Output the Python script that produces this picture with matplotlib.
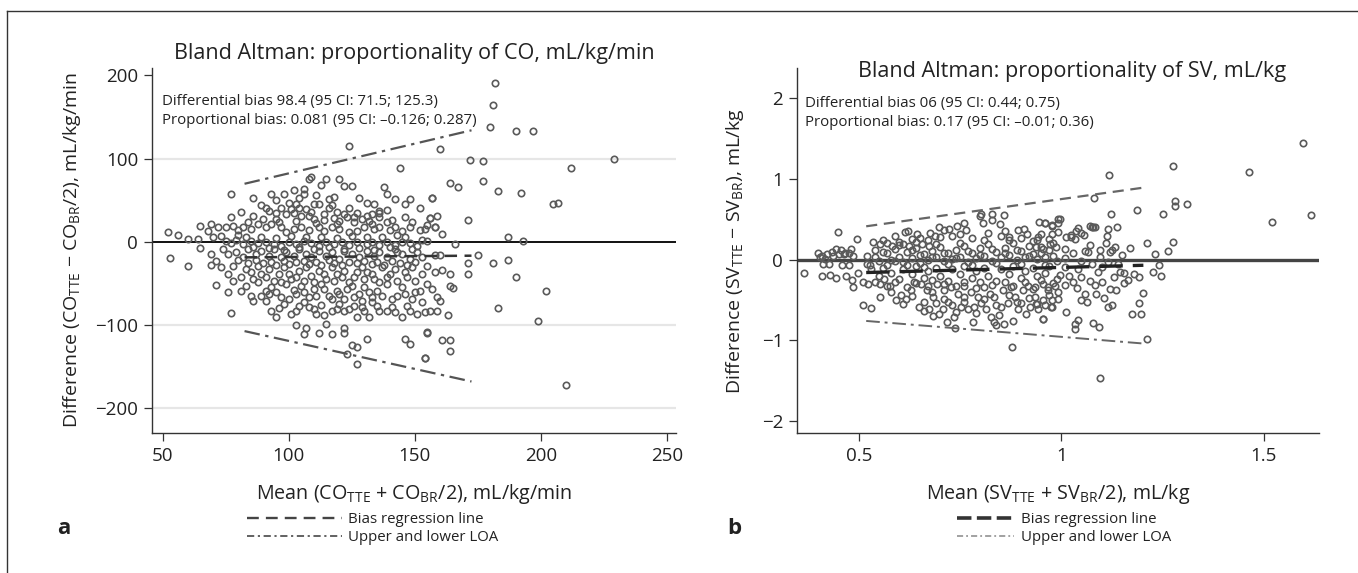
import numpy as np
import matplotlib
matplotlib.use('Agg')
import matplotlib.pyplot as plt
from matplotlib.lines import Line2D

plt.rcParams['font.family'] = ['Open Sans', 'DejaVu Sans']
plt.rcParams['mathtext.fontset'] = 'custom'
plt.rcParams['mathtext.rm'] = 'Open Sans'
plt.rcParams['axes.unicode_minus'] = True

# ---- panel a: CO (mean, difference) ----
co_points = [
    (124, 115), (144, 88), (109, 78), (108, 75), (120, 75), (113, 68), (115, 75), (122, 67), (125, 67),
    (77, 57), (86, 52), (93, 57), (98, 57), (102, 62), (106, 63), (106, 57),
    (138, 66), (139, 57), (142, 51), (148, 51), (157, 52), (128, 52), (134, 45), (136, 37), (139, 38),
    (89, 44), (91, 41), (97, 41), (100, 47), (103, 45), (107, 39), (110, 45), (112, 45), (116, 51),
    (117, 44), (116, 41), (124, 41), (127, 34), (133, 33), (136, 35), (152, 40),
    (77, 29), (81, 36), (86, 31), (92, 37), (95, 27), (99, 33), (102, 34), (105, 31), (108, 31),
    (110, 27), (114, 26), (118, 28), (120, 25), (123, 29), (126, 30), (129, 27), (132, 25), (136, 29),
    (139, 23), (142, 17), (146, 29), (149, 23), (156, 28), (159, 31),
    (65, 19), (69, 21), (68, 13), (72, 17), (75, 17), (78, 19), (80, 14), (82, 17), (85, 15), (88, 21),
    (91, 18), (93, 21), (97, 17), (99, 11), (102, 15), (105, 18), (108, 14), (112, 17), (114, 13),
    (117, 18), (120, 15), (124, 12), (127, 13), (130, 17), (134, 15), (136, 17), (140, 14), (143, 8),
    (145, 13), (148, 17), (152, 14), (155, 20), (158, 17),
    (52, 11), (56, 8), (60, 3), (64, 3), (70, 5), (73, 7),
    (75, 1), (77, -2), (79, 2), (82, -3), (85, 1), (88, -2), (91, 0), (94, -3), (97, -5), (100, -1),
    (103, -3), (106, 1), (109, -2), (112, -5), (115, 0), (118, -3), (121, -1), (124, -4), (127, 0),
    (131, -3), (133, -1), (136, -4), (139, -1), (142, -4), (145, 0), (148, -2), (151, -5), (155, 1),
    (53, -20), (60, -29), (65, -8), (69, -15), (71, -23), (69, -28),
    (74, -9), (76, -15), (79, -13), (82, -19), (84, -9), (87, -15), (89, -11), (92, -17), (94, -9),
    (97, -19), (99, -13), (102, -17), (104, -9), (107, -15), (109, -19), (112, -11), (115, -17),
    (117, -13), (120, -21), (122, -9), (125, -15), (128, -19), (131, -11), (134, -17), (136, -13),
    (139, -19), (142, -9), (145, -15), (148, -21), (151, -13), (153, -19),
    (73, -31), (76, -39), (78, -29), (81, -43), (83, -33), (85, -37), (88, -29), (91, -43), (92, -33),
    (96, -39), (98, -31), (101, -45), (104, -35), (107, -31), (109, -41), (112, -35), (115, -45),
    (117, -31), (119, -39), (122, -35), (126, -43), (129, -31), (131, -37), (134, -45), (137, -31),
    (140, -39), (142, -33), (147, -43), (149, -31), (153, -39), (155, -29), (158, -37),
    (71, -52), (76, -61), (81, -59), (78, -47), (83, -53), (85, -65), (88, -49), (91, -59), (93, -55),
    (97, -67), (99, -51), (103, -63), (105, -53), (108, -67), (110, -57), (113, -51), (116, -65),
    (119, -59), (122, -69), (125, -53), (128, -63), (130, -55), (133, -67), (135, -59), (139, -51),
    (143, -65), (145, -55), (149, -69), (152, -59), (155, -51), (159, -67),
    (77, -86), (86, -72), (91, -71), (93, -83), (95, -91), (98, -75), (101, -87), (103, -83), (106, -73),
    (108, -79), (111, -87), (114, -89), (117, -83), (120, -75), (122, -83), (124, -81), (127, -91),
    (130, -83), (132, -91), (133, -73), (136, -83), (139, -83), (142, -85), (145, -91), (148, -83),
    (151, -87), (154, -85), (156, -83), (159, -83),
    (103, -101), (107, -104), (106, -111), (112, -110), (115, -99), (117, -111), (122, -110),
    (122, -104), (123, -135), (127, -127), (125, -125), (131, -117), (146, -117), (148, -123),
    (155, -109), (154, -140), (127, -147),
    (182, 191), (181, 165), (180, 138), (190, 133), (197, 133), (160, 112), (172, 98), (177, 97),
    (229, 100), (212, 88), (164, 71), (167, 66), (177, 73), (183, 61), (192, 59), (157, 52),
    (205, 45), (207, 46), (171, 26), (187, 5), (193, 1), (156, 28), (158, 18), (154, 15), (161, 9),
    (153, 2), (166, -3), (158, -16), (160, -16), (175, -16), (171, -26), (181, -26), (187, -22),
    (171, -39), (164, -39), (161, -34), (190, -43), (164, -53), (165, -56), (202, -60), (160, -72),
    (183, -80), (163, -89), (199, -96), (155, -110), (161, -118), (164, -119), (164, -132),
    (154, -140), (210, -173),
    # densest part of the cloud
    (80, 8), (83, 5), (86, -6), (89, 6), (92, -8), (95, 4), (98, -10), (101, 7), (104, -6), (107, 5),
    (110, -9), (113, 6), (116, -7), (119, 4), (122, -11), (125, 7), (128, -8), (131, 5), (134, -10),
    (137, 6), (140, -7), (143, -12), (146, 6), (149, -9), (84, 24), (90, 27), (96, 23), (103, 25),
    (111, 22), (119, 21), (126, 23), (133, 21), (141, 26),
    (80, -22), (84, -26), (87, -22), (90, -26), (93, -24), (95, -28), (98, -23), (100, -27), (103, -25),
    (106, -23), (108, -27), (111, -24), (113, -28), (116, -22), (118, -26), (121, -28), (124, -24),
    (127, -26), (130, -23), (133, -27), (135, -24), (138, -28), (141, -23), (144, -26), (147, -28),
    (150, -24),
    (86, -45), (89, -39), (94, -47), (97, -49), (100, -39), (103, -43), (106, -47), (110, -49),
    (114, -39), (118, -47), (121, -43), (124, -49), (127, -37), (130, -45), (133, -39), (136, -49),
    (139, -43), (143, -47), (146, -37), (150, -47),
    (89, -65), (92, -63), (95, -61), (100, -69), (102, -58), (106, -61), (111, -65), (114, -57),
    (117, -69), (120, -63), (123, -57), (126, -67), (129, -71), (132, -61), (137, -65), (141, -69),
    (146, -63), (150, -61), (153, -73), (157, -57),
    (96, -80), (104, -77), (110, -81), (113, -76), (119, -81), (126, -77), (129, -79), (135, -77),
    (141, -79), (147, -77),
    (95, 35), (101, 39), (104, 41), (109, 36), (114, 33), (119, 36), (122, 33), (131, 31), (95, 50),
    (104, 52), (111, 56), (118, 54), (131, 46), (146, 45),
]

# bias regression line and limits of agreement (end points)
co_line_x = [82.5, 172.5]
co_bias_y = [-19, -17]
co_upper_y = [69.6, 134]
co_lower_y = [-107.8, -168.5]

# ---- panel b: SV (mean, difference) ----
sv_points = [
    (0.365, -0.16), (0.408, -0.20), (0.429, -0.19), (0.443, -0.22), (0.403, 0.03), (0.411, -0.05),
    (0.425, -0.05), (0.417, 0.01), (0.437, 0.05), (0.45, 0.07), (0.462, 0.07), (0.475, 0.09),
    (0.458, -0.07), (0.475, -0.07), (0.469, -0.20), (0.483, -0.25), (0.486, -0.34), (0.497, -0.16),
    (0.51, -0.27), (0.522, -0.30), (0.527, -0.07),
    (0.51, -0.565), (0.53, -0.60), (0.553, -0.46), (0.552, -0.30), (0.562, -0.235), (0.578, -0.32),
    (0.591, -0.50), (0.603, -0.44), (0.616, -0.48), (0.628, -0.38), (0.636, -0.28),
    (0.649, -0.59), (0.661, -0.63), (0.674, -0.61), (0.684, -0.70), (0.69, -0.54), (0.698, -0.67),
    (0.707, -0.61), (0.719, -0.52), (0.717, -0.77), (0.737, -0.84), (0.736, -0.71), (0.74, -0.65),
    (0.752, -0.59), (0.759, -0.46), (0.769, -0.61), (0.785, -0.59), (0.783, -0.77),
    (0.802, -0.54), (0.814, -0.61), (0.827, -0.71), (0.835, -0.77), (0.839, -0.81), (0.858, -0.79),
    (0.847, -0.69), (0.852, -0.59), (0.868, -0.54), (0.882, -0.76), (0.879, -1.08),
    (0.893, -0.61), (0.901, -0.54), (0.914, -0.67), (0.922, -0.59), (0.934, -0.46), (0.955, -0.74),
    (0.943, -0.61), (0.959, -0.565), (0.974, -0.59), (0.977, -0.50), (0.991, -0.48), (0.997, -0.19),
    (0.653, -0.30), (0.669, -0.38), (0.682, -0.46), (0.694, -0.30), (0.711, -0.38), (0.727, -0.34),
    (0.744, -0.42), (0.76, -0.32), (0.777, -0.40), (0.794, -0.46), (0.81, -0.34), (0.823, -0.42),
    (0.835, -0.46), (0.856, -0.38), (0.876, -0.34), (0.885, -0.46), (0.905, -0.38), (0.918, -0.32),
    (0.934, -0.34), (0.955, -0.30), (0.968, -0.38), (0.984, -0.32),
    (1.598, 1.446), (1.275, 1.157), (1.118, 1.054), (1.464, 1.091), (1.080, 0.766), (1.188, 0.617),
    (1.28, 0.733), (1.28, 0.671), (1.311, 0.692), (1.251, 0.564), (1.122, 0.572), (1.52, 0.469),
    (1.618, 0.556), (0.961, 0.453), (0.978, 0.416), (0.997, 0.506), (0.992, 0.35),
    (1.075, 0.403), (1.083, 0.411), (1.115, 0.383), (1.137, 0.403), (1.112, 0.30),
    (1.048, 0.329), (1.025, 0.28), (1.035, 0.259), (0.943, 0.28), (0.951, 0.321),
    (1.17, 0.148), (1.212, 0.206), (1.275, 0.222), (1.265, 0.11), (1.232, 0.07),
    (1.133, 0.156), (1.125, 0.115), (1.121, 0.094), (1.096, 0.123), (1.096, 0.033), (1.065, 0.094),
    (1.058, 0.107), (1.009, 0.135), (0.988, 0.156), (0.972, 0.197), (0.955, 0.135), (0.938, 0.156),
    (1.241, -0.066), (1.228, -0.157), (1.247, -0.202), (1.145, -0.157), (1.154, -0.161),
    (1.193, -0.215), (1.179, -0.174), (1.166, -0.256), (1.156, -0.285),
    (1.135, -0.372), (1.203, -0.413), (1.193, -0.532), (1.175, -0.672), (1.197, -0.672),
    (1.106, -0.47), (1.115, -0.586), (1.125, -0.565), (1.083, -0.318), (1.1, -0.277), (1.087, -0.421),
    (1.058, -0.421), (1.05, -0.503), (1.063, -0.524), (1.013, -0.647), (1.034, -0.792), (1.042, -0.75),
    (1.034, -0.853), (1.079, -0.783), (1.094, -0.833), (1.213, -0.985), (1.097, -1.463),
    (0.955, -0.73), (0.976, -0.586), (0.955, -0.503), (0.938, -0.544), (0.967, -0.338), (0.992, -0.4),
    (1.009, -0.318), (1.03, -0.277), (1.05, -0.215),
    (1.009, -0.091), (1.042, -0.112), (1.075, -0.05), (1.1, -0.091), (1.116, -0.03), (1.141, -0.05),
    (0.449, 0.348), (0.495, 0.262), (0.399, 0.09), (0.408, 0.045), (0.422, 0.077), (0.433, 0.099),
    (0.443, 0.135), (0.456, 0.122), (0.465, 0.09), (0.481, 0.135), (0.486, 0.045),
    (0.614, 0.348), (0.622, 0.352), (0.644, 0.316), (0.652, 0.271), (0.676, 0.334), (0.689, 0.293),
    (0.697, 0.406), (0.71, 0.37), (0.723, 0.384), (0.742, 0.415), (0.751, 0.316), (0.76, 0.46),
    (0.765, 0.37), (0.801, 0.573), (0.799, 0.542), (0.828, 0.564), (0.858, 0.551), (0.83, 0.488),
    (0.806, 0.451), (0.849, 0.442), (0.86, 0.352), (0.87, 0.28), (0.892, 0.37), (0.908, 0.384),
    (0.916, 0.316), (0.945, 0.465), (0.961, 0.451), (0.977, 0.429), (0.991, 0.506), (0.993, 0.451),
    (0.977, 0.316), (1.012, 0.28), (1.025, 0.302), (1.036, 0.361), (1.041, 0.397), (1.057, 0.307),
    (1.071, 0.415), (1.078, 0.406),
    (0.534, 0.226), (0.552, 0.19), (0.569, 0.203), (0.582, 0.172), (0.598, 0.226), (0.609, 0.19),
    (0.625, 0.172), (0.641, 0.226), (0.657, 0.19), (0.673, 0.172),
    (0.52, 0.05), (0.54, 0.12), (0.55, -0.02), (0.57, 0.08), (0.58, 0.0), (0.59, 0.13), (0.60, 0.04),
    (0.61, -0.03), (0.62, 0.10), (0.63, 0.02), (0.64, 0.14), (0.65, -0.04), (0.66, 0.07), (0.67, 0.0),
    (0.68, 0.11), (0.69, 0.03), (0.70, 0.16), (0.71, -0.02), (0.72, 0.08), (0.73, 0.01), (0.74, 0.12),
    (0.75, 0.04), (0.76, 0.17), (0.77, -0.03), (0.78, 0.09), (0.79, 0.02), (0.80, 0.14), (0.81, 0.05),
    (0.82, 0.20), (0.83, -0.01), (0.84, 0.10), (0.85, 0.03), (0.86, 0.15), (0.87, 0.06), (0.88, 0.21),
    (0.89, 0.0), (0.90, 0.11), (0.91, 0.04), (0.92, 0.17), (0.93, 0.07), (0.94, 0.01), (0.95, 0.09),
    (0.96, 0.03), (0.97, 0.12), (0.98, 0.05), (0.99, -0.02),
    (0.53, -0.12), (0.55, -0.20), (0.56, -0.10), (0.58, -0.16), (0.60, -0.24), (0.61, -0.12),
    (0.63, -0.18), (0.64, -0.08), (0.66, -0.22), (0.67, -0.14), (0.69, -0.10), (0.70, -0.20),
    (0.72, -0.26), (0.73, -0.12), (0.75, -0.18), (0.76, -0.08), (0.78, -0.22), (0.79, -0.14),
    (0.81, -0.10), (0.82, -0.20), (0.84, -0.26), (0.85, -0.12), (0.87, -0.18), (0.88, -0.08),
    (0.90, -0.22), (0.91, -0.14), (0.93, -0.10), (0.94, -0.20), (0.96, -0.16), (0.97, -0.08),
    (0.99, -0.24),
    # densest part of the cloud
    (0.52, -0.05), (0.54, 0.03), (0.56, 0.10), (0.57, -0.06), (0.59, -0.01), (0.60, 0.18), (0.62, -0.07),
    (0.63, 0.12), (0.65, 0.06), (0.66, -0.09), (0.68, 0.04), (0.69, 0.19), (0.71, 0.09), (0.72, -0.05),
    (0.74, 0.02), (0.75, 0.21), (0.77, 0.11), (0.78, -0.06), (0.80, 0.06), (0.81, 0.24), (0.83, 0.13),
    (0.84, -0.04), (0.86, 0.08), (0.87, 0.25), (0.89, 0.12), (0.90, -0.05), (0.92, 0.05), (0.93, 0.23),
    (0.95, 0.16), (0.96, -0.07), (0.98, 0.21),
    (0.54, -0.28), (0.57, -0.33), (0.59, -0.28), (0.62, -0.34), (0.64, -0.29), (0.67, -0.33),
    (0.68, -0.25), (0.71, -0.30), (0.74, -0.32), (0.76, -0.27), (0.79, -0.35), (0.80, -0.27),
    (0.83, -0.31), (0.86, -0.27), (0.88, -0.33), (0.91, -0.28), (0.93, -0.36), (0.95, -0.25),
    (0.98, -0.29),
    (0.58, -0.40), (0.61, -0.55), (0.63, -0.45), (0.66, -0.52), (0.68, -0.40), (0.71, -0.49),
    (0.73, -0.56), (0.76, -0.52), (0.79, -0.66), (0.81, -0.48), (0.84, -0.56), (0.87, -0.44),
    (0.89, -0.52), (0.92, -0.47), (0.94, -0.55), (0.97, -0.44),
    (0.56, 0.25), (0.59, 0.30), (0.63, 0.26), (0.67, 0.24), (0.70, 0.28), (0.73, 0.30), (0.78, 0.27),
    (0.82, 0.33), (0.85, 0.29), (0.90, 0.27), (0.94, 0.24), (0.97, 0.26),
    (1.01, 0.02), (1.03, 0.08), (1.05, -0.02), (1.07, 0.18), (1.09, -0.15), (1.11, 0.21), (1.13, -0.21),
    (1.15, 0.06), (1.02, -0.20), (1.04, -0.35), (1.07, -0.26), (1.12, -0.36),
]

sv_line_x = [0.518, 1.203]
sv_bias_y = [-0.158, -0.068]
sv_upper_y = [0.415, 0.894]
sv_lower_y = [-0.758, -1.038]

co_xticks = [50, 100, 150, 200, 250]
co_yticks = [-200, -100, 0, 100, 200]
sv_xticks = [0.5, 1, 1.5]
sv_xticklabels = ['0.5', '1', '1.5']
sv_yticks = [-2, -1, 0, 1, 2]

W, H = 1358, 573
fig = plt.figure(figsize=(W / 100, H / 100), dpi=100)

# outer frame (only left and top edge are visible)
fig.add_artist(Line2D([7 / W, 7 / W], [0, 1 - 11 / H], color='#333333', lw=1.0))
fig.add_artist(Line2D([7 / W, 1], [1 - 11 / H, 1 - 11 / H], color='#333333', lw=1.0))

ax_bottom = (H - 433) / H
ax_height = (433 - 68) / H
ax1 = fig.add_axes([152 / W, ax_bottom, 524 / W, ax_height])
ax2 = fig.add_axes([797 / W, ax_bottom, 522 / W, ax_height])

pt_col = '#5a5a5a'
txt_col = '#222222'


def style_axes(ax):
    for s in ['top', 'right']:
        ax.spines[s].set_visible(False)
    for s in ['left', 'bottom']:
        ax.spines[s].set_color('#333333')
        ax.spines[s].set_linewidth(1.0)
    ax.tick_params(direction='out', length=6, width=0.9, color='#333333',
                   labelsize=13.5, labelcolor=txt_col, pad=4)


# ---------- panel a ----------
co = np.array(co_points, dtype=float)
style_axes(ax1)
for g in [100, -100, -200]:
    ax1.axhline(g, color='#e6e6e6', lw=1.6, zorder=0)
ax1.axhline(0, color='#111111', lw=1.4, zorder=1)
ax1.plot(co[:, 0], co[:, 1], 'o', ms=4.6, mfc='none', mec=pt_col, mew=1.2, zorder=2)
ax1.plot(co_line_x, co_bias_y, color='#333333', lw=1.8, dashes=(5, 3), zorder=3)
ax1.plot(co_line_x, co_upper_y, color='#555555', lw=1.6, dashes=(7, 2.5, 1.5, 2.5), zorder=3)
ax1.plot(co_line_x, co_lower_y, color='#555555', lw=1.6, dashes=(7, 2.5, 1.5, 2.5), zorder=3)
ax1.set_xlim(45.8, 253.6)
ax1.set_ylim(-230.5, 209)
ax1.set_xticks(co_xticks)
ax1.set_yticks(co_yticks)
ax1.set_xlabel('Mean (CO$_\\mathregular{TTE}$ + CO$_\\mathregular{BR}$/2), mL/kg/min',
               fontsize=14.2, color=txt_col)
ax1.set_ylabel('Difference (CO$_\\mathregular{TTE}$ \u2212 CO$_\\mathregular{BR}$/2), mL/kg/min',
               fontsize=14, color=txt_col)
ax1.xaxis.set_label_coords(0.5, -0.134)
ax1.yaxis.set_label_coords(-0.132, 0.5)

fig.text(414 / W, 1 - 53 / H, 'Bland Altman: proportionality of CO, mL/kg/min',
         ha='center', va='center', fontsize=15.6, color=txt_col)
fig.text(162 / W, 1 - 101.7 / H, 'Differential bias 98.4 (95 CI: 71.5; 125.3)',
         ha='left', va='center', fontsize=10.8, color=txt_col)
fig.text(162 / W, 1 - 120.7 / H, 'Proportional bias: 0.081 (95 CI: \u20130.126; 0.287)',
         ha='left', va='center', fontsize=10.8, color=txt_col)

h_a = [Line2D([], [], color='#444444', lw=1.7, dashes=(5, 3)),
       Line2D([], [], color='#555555', lw=1.3, dashes=(4, 2, 1.2, 2))]
fig.legend(h_a, ['Bias regression line', 'Upper and lower LOA'], loc='center left',
           bbox_to_anchor=(247 / W, 1 - 528.5 / H), frameon=False, fontsize=10.8,
           handlelength=6.3, handletextpad=0.45, labelspacing=0.2, borderpad=0,
           borderaxespad=0, labelcolor=txt_col)
fig.text(64 / W, 1 - 528 / H, 'a', ha='center', va='center', fontsize=16,
         fontweight='bold', color=txt_col)

# ---------- panel b ----------
sv = np.array(sv_points, dtype=float)
style_axes(ax2)
ax2.axhline(0, color='#444444', lw=2.4, zorder=1)
ax2.plot(sv[:, 0], sv[:, 1], 'o', ms=4.6, mfc='none', mec=pt_col, mew=1.2, zorder=2)
ax2.plot(sv_line_x, sv_bias_y, color='#222222', lw=2.4, dashes=(7, 3), zorder=3)
ax2.plot(sv_line_x, sv_upper_y, color='#666666', lw=1.6, dashes=(5, 3), zorder=3)
ax2.plot(sv_line_x, sv_lower_y, color='#666666', lw=1.4, dashes=(7, 2.5, 1.5, 2.5), zorder=3)
ax2.set_xlim(0.347, 1.637)
ax2.set_ylim(-2.147, 2.377)
ax2.set_xticks(sv_xticks)
ax2.set_xticklabels(sv_xticklabels)
ax2.set_yticks(sv_yticks)
ax2.set_xlabel('Mean (SV$_\\mathregular{TTE}$ + SV$_\\mathregular{BR}$/2), mL/kg',
               fontsize=14.2, color=txt_col)
ax2.set_ylabel('Difference (SV$_\\mathregular{TTE}$ \u2212 SV$_\\mathregular{BR}$), mL/kg',
               fontsize=14, color=txt_col)
ax2.xaxis.set_label_coords(0.5, -0.134)
ax2.yaxis.set_label_coords(-0.098, 0.5)

fig.text(1072 / W, 1 - 71 / H, 'Bland Altman: proportionality of SV, mL/kg',
         ha='center', va='center', fontsize=15.6, color=txt_col)
fig.text(805 / W, 1 - 104 / H, 'Differential bias 06 (95 CI: 0.44; 0.75)',
         ha='left', va='center', fontsize=10.8, color=txt_col)
fig.text(805 / W, 1 - 123 / H, 'Proportional bias: 0.17 (95 CI: \u20130.01; 0.36)',
         ha='left', va='center', fontsize=10.8, color=txt_col)

h_b = [Line2D([], [], color='#333333', lw=2.6, dashes=(4, 1.5)),
       Line2D([], [], color='#888888', lw=1.1, dashes=(4, 2, 1.2, 2))]
fig.legend(h_b, ['Bias regression line', 'Upper and lower LOA'], loc='center left',
           bbox_to_anchor=(957 / W, 1 - 528.5 / H), frameon=False, fontsize=10.8,
           handlelength=3.8, handletextpad=0.45, labelspacing=0.2, borderpad=0,
           borderaxespad=0, labelcolor=txt_col)
fig.text(734 / W, 1 - 528 / H, 'b', ha='center', va='center', fontsize=16,
         fontweight='bold', color=txt_col)

fig.savefig('out.png', dpi=100)
